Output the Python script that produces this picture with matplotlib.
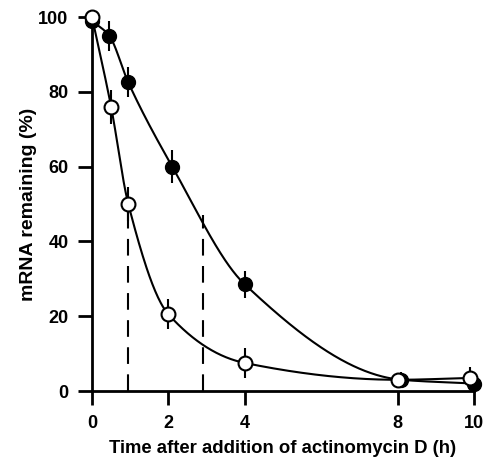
import numpy as np
import matplotlib
matplotlib.use("Agg")
import matplotlib.pyplot as plt

plt.rcParams['font.family'] = ['Liberation Sans', 'DejaVu Sans']

# Data
t_filled = [0, 0.45, 0.95, 2.1, 4.0, 8.1, 10.0]
y_filled = [99, 95, 82.5, 60, 28.5, 3, 2]
e_filled = [2, 4, 4, 4.5, 3.5, 2, 2]

t_open = [0, 0.5, 0.95, 2.0, 4.0, 8.0, 9.9]
y_open = [100, 76, 50, 20.5, 7.5, 3, 3.5]
e_open = [1.5, 4.5, 4.5, 4, 4, 1.5, 3]

half_lives = [0.95, 2.9]
half_level = [50, 47]

xticks = [0, 2, 4, 8, 10]
yticks = [0, 20, 40, 60, 80, 100]


def pchip(x, y, xn):
    x = np.asarray(x, float); y = np.asarray(y, float)
    h = np.diff(x); d = np.diff(y) / h
    n = len(x); m = np.zeros(n)
    for k in range(1, n - 1):
        if d[k - 1] * d[k] <= 0:
            m[k] = 0
        else:
            w1 = 2 * h[k] + h[k - 1]; w2 = h[k] + 2 * h[k - 1]
            m[k] = (w1 + w2) / (w1 / d[k - 1] + w2 / d[k])
    m[0] = d[0]; m[-1] = d[-1]
    out = np.empty_like(xn)
    idx = np.clip(np.searchsorted(x, xn) - 1, 0, n - 2)
    for j, xv in enumerate(xn):
        k = idx[j]; s = (xv - x[k]) / h[k]
        h00 = 2 * s**3 - 3 * s**2 + 1; h10 = s**3 - 2 * s**2 + s
        h01 = -2 * s**3 + 3 * s**2; h11 = s**3 - s**2
        out[j] = h00 * y[k] + h10 * h[k] * m[k] + h01 * y[k + 1] + h11 * h[k] * m[k + 1]
    return out


fig = plt.figure(figsize=(4.85, 4.57), dpi=100)
ax = fig.add_axes([92/485, (457-391)/457, (474-92)/485, (391-17)/457])

xs = np.linspace(0, 10, 400)
ax.plot(xs, pchip(t_filled, y_filled, xs), color='black', lw=1.5, zorder=2, clip_on=False)
ax.plot(xs, pchip(t_open, y_open, xs), color='black', lw=1.5, zorder=2, clip_on=False)

for x, h in zip(half_lives, half_level):
    ax.plot([x, x], [0, h], color='black', lw=1.5, dashes=(8, 5), zorder=1, clip_on=False)

ax.errorbar(t_filled, y_filled, yerr=e_filled, fmt='o', color='black', ms=10,
            mfc='black', mec='black', elinewidth=1.5, capsize=0, zorder=3, clip_on=False)
ax.errorbar(t_open, y_open, yerr=e_open, fmt='o', color='black', ms=10,
            mfc='white', mec='black', mew=1.5, elinewidth=1.5, capsize=0, zorder=4, clip_on=False)

ax.set_xlim(0, 10)
ax.set_ylim(0, 100)
ax.set_xticks(xticks)
ax.set_yticks(yticks)
ax.tick_params(direction='out', length=10, width=2, labelsize=13, pad=7)
for lab in ax.get_xticklabels() + ax.get_yticklabels():
    lab.set_fontweight('bold')
for s in ['top', 'right']:
    ax.spines[s].set_visible(False)
for s in ['left', 'bottom']:
    ax.spines[s].set_linewidth(2)

ax.set_xlabel('Time after addition of actinomycin D (h)', fontsize=13.3, fontweight='bold', labelpad=6)
ax.set_ylabel('mRNA remaining (%)', fontsize=14, fontweight='bold', labelpad=1)

fig.savefig('out.png', dpi=100)
